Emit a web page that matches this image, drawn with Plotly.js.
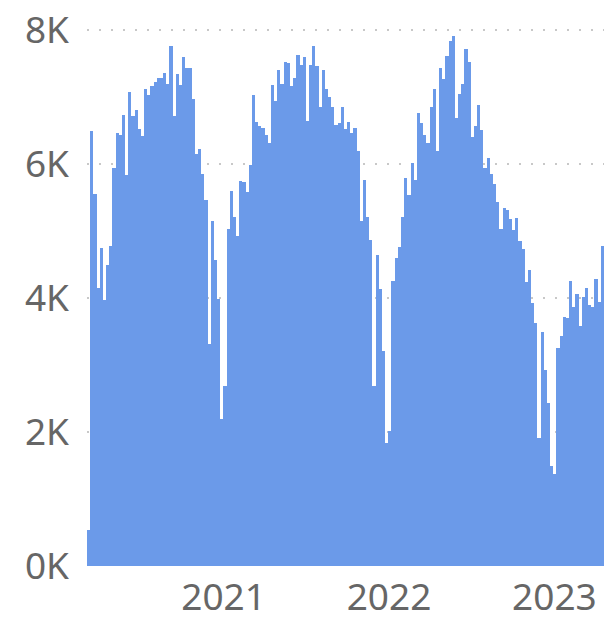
<!DOCTYPE html>
<html>
<head>
<meta charset="utf-8">
<script src="https://cdn.plot.ly/plotly-3.0.1.min.js"></script>
<style>
html,body{margin:0;padding:0;background:#fff;overflow:hidden;}
#chart{width:604px;height:626px;}
</style>
</head>
<body>
<div id="chart"></div>
<script>
// First week (bar) start, one bar per week
const firstWeek = "2020-03-09";
// Weekly values (thousands)
const weeklyValuesK = [
  0.53, 6.49, 5.55, 4.15, 4.74, 3.97, 4.50, 4.77, 5.94, 6.46, 6.44, 6.73, 5.83, 7.07,
  6.71, 6.80, 6.52, 6.42, 7.12, 7.03, 7.16, 7.22, 7.28, 7.28, 7.36, 7.19, 7.76, 6.71,
  7.34, 7.18, 7.60, 7.43, 7.43, 6.97, 6.15, 6.22, 5.85, 5.46, 3.32, 5.15, 4.57, 3.98,
  2.20, 2.68, 5.03, 5.59, 5.21, 4.92, 5.74, 5.73, 5.58, 5.98, 7.03, 6.63, 6.56,
  6.54, 6.44, 6.32, 7.18, 6.94, 7.41, 7.19, 7.52, 7.51, 7.16, 7.29, 7.63, 7.48, 7.60,
  6.64, 7.48, 7.76, 7.46, 6.85, 7.40, 7.12, 7.00, 6.85, 6.58, 6.61, 6.85,
  6.52, 6.63, 6.46, 6.54, 6.19, 5.15, 5.76, 5.21, 4.86, 2.68, 4.64, 4.13, 3.21, 1.84,
  2.01, 4.26, 4.60, 4.76, 5.21, 5.79, 5.54, 6.01, 5.76, 6.76, 6.61, 6.43, 6.31,
  6.85, 7.12, 6.20, 7.43, 7.27, 7.61, 7.83, 7.91, 6.68, 7.04, 7.19, 7.71, 7.53, 6.40,
  6.56, 6.88, 6.51, 5.94, 6.09, 5.85, 5.70, 5.43, 5.03, 5.34, 5.31, 5.18, 5.01,
  5.19, 4.85, 4.73, 4.24, 4.42, 3.92, 3.63, 1.91, 3.49, 2.92, 2.44, 1.49, 1.37, 3.25,
  3.44, 3.71, 3.70, 4.26, 3.87, 4.06, 3.58, 4.01, 4.15, 3.89, 3.87, 4.28, 3.94, 4.77
];
const yTickVals = [0, 2000, 4000, 6000, 8000];
const yTickText = ["0K", "2K", "4K", "6K", "8K"];
const xTickVals = ["2021-01-01", "2022-01-01", "2023-01-01"];
const xTickText = ["2021", "2022", "2023"];

function addDays(iso, n) {
  const d = new Date(iso + "T00:00:00Z");
  d.setUTCDate(d.getUTCDate() + n);
  return d.toISOString().slice(0, 10);
}
const weeks = weeklyValuesK.map((_, i) => addDays(firstWeek, 7 * i));
const values = weeklyValuesK.map(v => v * 1000);

const first = new Date(weeks[0] + "T00:00:00Z").getTime() - 3.5 * 86400000;
const last = new Date(weeks[weeks.length - 1] + "T00:00:00Z").getTime() + 3.5 * 86400000;

const font = {family: "'Segoe UI', 'Noto Sans', 'Open Sans', sans-serif", size: 37, color: "#666666"};

Plotly.newPlot("chart", [{
  type: "bar",
  x: weeks,
  y: values,
  marker: {color: "#6b9ae9", line: {width: 0}},
  hoverinfo: "x+y"
}], {
  width: 604, height: 626,
  margin: {l: 87, r: 0, t: 28, b: 60, pad: 0},
  paper_bgcolor: "#ffffff",
  plot_bgcolor: "#ffffff",
  bargap: 0,
  showlegend: false,
  xaxis: {
    type: "date",
    range: [first, last],
    tickvals: xTickVals,
    ticktext: xTickText,
    showgrid: false,
    zeroline: false,
    showline: false,
    ticks: "",
    tickfont: font,
    ticklabelstandoff: 6
  },
  yaxis: {
    range: [0, 8030],
    tickvals: yTickVals,
    ticktext: yTickText,
    showgrid: true,
    gridcolor: "#c8c8c8",
    gridwidth: 2,
    griddash: "2px,10px",
    zeroline: false,
    showline: false,
    ticks: "",
    tickfont: font,
    ticklabelstandoff: 17
  }
}, {displayModeBar: false, staticPlot: true});
</script>
</body>
</html>
